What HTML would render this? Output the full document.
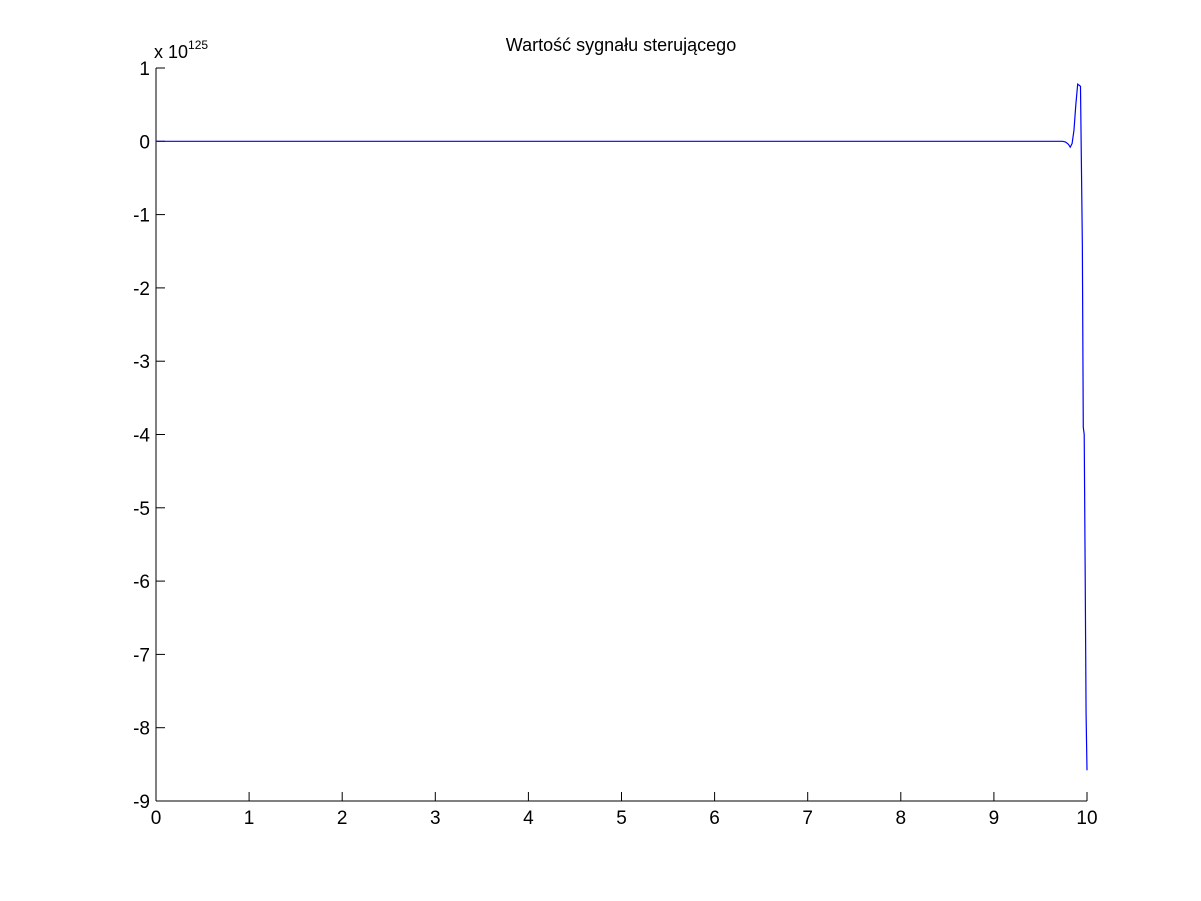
<!DOCTYPE html>
<html><head><meta charset="utf-8"><style>
body{margin:0;background:#fff;}
svg{display:block;font-family:"Liberation Sans",Arial,sans-serif;}
</style></head><body>
<svg id="chart" width="1201" height="901" viewBox="0 0 1201 901">
<rect width="1201" height="901" fill="#fff"/>
<text x="621" y="51" font-size="18" text-anchor="middle">Wartość sygnału sterującego</text>
<text x="154" y="58" font-size="18">x 10<tspan font-size="12" dy="-9">125</tspan></text>
<g id="axes"></g>
<g id="plot"></g>
</svg>
<script>
const xTicks=[0,1,2,3,4,5,6,7,8,9,10];
const yTicks=[1,0,-1,-2,-3,-4,-5,-6,-7,-8,-9];
const tVals=[0,9.70,9.74,9.77,9.80,9.82,9.84,9.86,9.88,9.90,9.93,9.95,9.96,9.97,9.98,9.99,10.0];
const uVals=[0,0,0,-0.01,-0.04,-0.08,-0.03,0.15,0.5,0.78,0.75,-1.4,-3.9,-4.0,-5.8,-7.8,-8.58];
const L=156,R=1087,T=68,B=801;
const sx=v=>L+(v-0)/(10-0)*(R-L);
const sy=v=>B-(v+9)/(1+9)*(B-T);
const ns="http://www.w3.org/2000/svg";
const ax=document.getElementById('axes');
function mk(tag,attrs,parent){const e=document.createElementNS(ns,tag);for(const k in attrs)e.setAttribute(k,attrs[k]);parent.appendChild(e);return e;}
let e=mk('line',{x1:L,y1:B,x2:R,y2:B,stroke:'#000','stroke-width':1},ax);


e=mk('line',{x1:L,y1:T,x2:L,y2:B,stroke:'#000','stroke-width':1},ax);


xTicks.forEach(v=>{
 const t=mk('line',{x1:sx(v),y1:B,x2:sx(v),y2:B-9,stroke:'#000'},ax);
 
 
 const l=mk('text',{x:sx(v),y:B+23,'font-size':19,'text-anchor':'middle'},ax);
 l.textContent=v;
 
 
});
yTicks.forEach(v=>{
 const t=mk('line',{x1:L,y1:sy(v),x2:L+9,y2:sy(v),stroke:'#000'},ax);
 
 
 const l=mk('text',{x:L-6,y:sy(v)+7,'font-size':19,'text-anchor':'end'},ax);
 l.textContent=v;
 
 
});
const p=mk('polyline',{points:tVals.map((t,i)=>sx(t)+','+sy(uVals[i])).join(' '),fill:'none',stroke:'#0000ff','stroke-width':1.2},document.getElementById('plot'));


</script>
</body></html>
